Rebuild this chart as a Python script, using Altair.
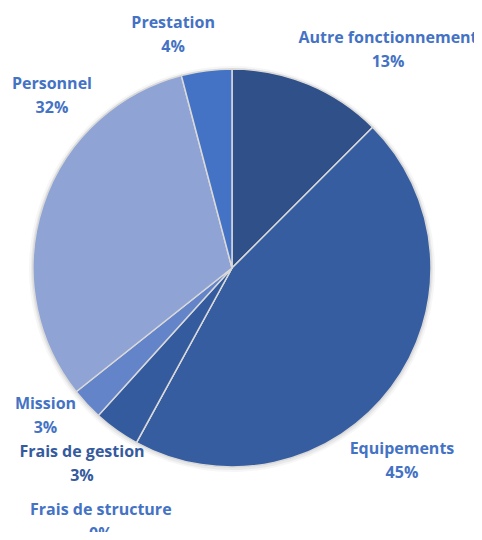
import altair as alt
import pandas as pd

categories = ["Autre fonctionnement", "Equipements", "Frais de structure", "Frais de gestion",
              "Mission", "Personnel", "Prestation"]
values = [12.5, 45.5, 0.0, 3.75, 2.6, 31.6, 4.1]
pct_labels = ["13%", "45%", "0%", "3%", "3%", "32%", "4%"]
slice_colors = ["#2F5089", "#375DA1", "#2B4C85", "#355B9F", "#6384C8", "#8FA3D4", "#4472C4"]
label_colors = ["#4472C4", "#4472C4", "#4472C4", "#355A9E", "#4472C4", "#4472C4", "#4472C4"]
# label placement (angle clockwise from top, degrees; distance from centre, px)
label_angle = [35.6, 138.6, 207.3, 217.4, 231.6, 313.7, 345.8]
label_dist = [268, 257, 286, 247, 238, 249, 240]

df = pd.DataFrame({
    "cat": categories,
    "value": values,
    "order": list(range(len(categories))),
    "label": [f"{c}\n{p}" for c, p in zip(categories, pct_labels)],
    "la": label_angle,
    "lr": label_dist,
})

cx, cy = 224, 260

base = alt.Chart(df)

shadow1 = base.mark_arc(radius=203, color="#000000", opacity=0.035).encode(
    theta=alt.Theta("value:Q", stack=True), order=alt.Order("order:Q"),
    x=alt.value(cx), y=alt.value(cy + 1),
)
shadow2 = base.mark_arc(radius=201, color="#000000", opacity=0.05).encode(
    theta=alt.Theta("value:Q", stack=True), order=alt.Order("order:Q"),
    x=alt.value(cx), y=alt.value(cy + 1),
)

pie = base.mark_arc(radius=199, stroke="#D9D9D9", strokeWidth=1.5).encode(
    theta=alt.Theta("value:Q", stack=True),
    order=alt.Order("order:Q"),
    color=alt.Color("cat:N", scale=alt.Scale(domain=categories, range=slice_colors), legend=None),
    x=alt.value(cx), y=alt.value(cy),
)

labels = base.mark_text(font="Open Sans", fontWeight="bold", fontSize=16, lineBreak="\n",
                        lineHeight=24, align="center", baseline="middle", dy=-12).encode(
    theta=alt.Theta("la:Q", stack=None, scale=alt.Scale(domain=[0, 360], range=[0, 6.283185307])),
    radius=alt.Radius("lr:Q", scale=None),
    text="label:N",
    color=alt.Color("cat:N", scale=alt.Scale(domain=categories, range=label_colors), legend=None),
    x=alt.value(cx), y=alt.value(cy),
)

chart = alt.layer(shadow1, shadow2, pie, labels).resolve_scale(
    theta="independent", color="independent"
).properties(
    width=466, height=524, autosize=alt.AutoSizeParams(type="none"), padding=0
).configure_view(stroke=None)

chart.save("out.html", embed_options={"renderer": "svg", "actions": False})
